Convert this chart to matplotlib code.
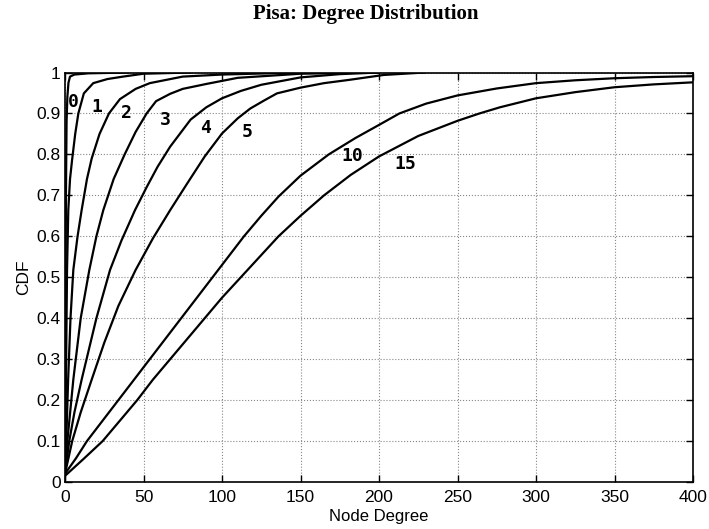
import numpy as np
import matplotlib
matplotlib.use('Agg')
import matplotlib.pyplot as plt

# degree / cdf points, one pair of lists per curve
deg_0 = [0, 0.3, 0.6, 1.0, 1.5, 2.2, 3.2, 6, 15, 40]
cdf_0 = [0.0, 0.35, 0.7, 0.88, 0.94, 0.975, 0.99, 0.995, 0.998, 1.0]

deg_1 = [0, 0.3, 0.6, 1.3, 2.1, 3.2, 4.5, 6.5, 8.5, 12, 18, 27, 37, 50, 80]
cdf_1 = [0.02, 0.12, 0.25, 0.518, 0.664, 0.74, 0.786, 0.85, 0.9, 0.949, 0.974, 0.984, 0.99, 0.997, 1.0]

deg_2 = [0, 0.8, 2.0, 3.5, 5.3, 8, 10.6, 14, 17, 22, 28, 35, 45, 54, 75, 100, 150]
cdf_2 = [0.02, 0.1, 0.25, 0.4, 0.518, 0.6, 0.664, 0.74, 0.79, 0.85, 0.9, 0.935, 0.96, 0.974, 0.99, 0.995, 1.0]

deg_3 = [0, 1.5, 5.3, 10, 15.5, 20, 24.4, 31, 38, 45, 52, 58, 67, 75, 90, 110, 150, 200]
cdf_3 = [0.02, 0.1, 0.25, 0.4, 0.518, 0.6, 0.664, 0.74, 0.8, 0.855, 0.9, 0.93, 0.948, 0.96, 0.972, 0.987, 0.997, 1.0]

deg_4 = [0, 2.7, 6, 10.6, 20, 28.7, 36, 44.6, 52, 59, 67, 80, 90, 100, 112, 125, 150, 175, 200]
cdf_4 = [0.02, 0.1, 0.17, 0.25, 0.4, 0.518, 0.59, 0.664, 0.72, 0.77, 0.819, 0.885, 0.915, 0.937, 0.955, 0.97, 0.988, 0.996, 1.0]

deg_5 = [0, 4.6, 10, 17, 25, 34, 45, 56, 67, 78, 89, 100, 110, 118, 127, 135, 150, 165, 181, 203, 229]
cdf_5 = [0.02, 0.1, 0.17, 0.25, 0.34, 0.43, 0.518, 0.595, 0.664, 0.73, 0.795, 0.851, 0.888, 0.912, 0.932, 0.949, 0.963, 0.974, 0.982, 0.994, 1.0]

deg_10 = [0, 7, 14, 24, 34, 44, 54, 64, 74, 84, 94, 104, 114, 125, 136, 150, 168, 185, 200,
          213, 230, 250, 275, 300, 325, 350, 375, 400]
cdf_10 = [0.02, 0.058, 0.1, 0.15, 0.2, 0.25, 0.3, 0.35, 0.4, 0.45, 0.5, 0.55, 0.6, 0.65, 0.697, 0.748,
          0.8, 0.84, 0.872, 0.9, 0.924, 0.944, 0.961, 0.974, 0.981, 0.986, 0.989, 0.991]

deg_15 = [0, 12, 24, 35, 46, 56, 67, 78, 89, 100, 112, 124, 136, 150, 165, 182, 200, 225, 250,
          264, 277, 300, 325, 350, 375, 400]
cdf_15 = [0.015, 0.057, 0.1, 0.15, 0.2, 0.25, 0.3, 0.35, 0.4, 0.45, 0.5, 0.55, 0.6, 0.65, 0.7,
          0.75, 0.795, 0.845, 0.882, 0.9, 0.915, 0.937, 0.952, 0.964, 0.971, 0.976]

curves = [(deg_0, cdf_0), (deg_1, cdf_1), (deg_2, cdf_2), (deg_3, cdf_3),
          (deg_4, cdf_4), (deg_5, cdf_5), (deg_10, cdf_10), (deg_15, cdf_15)]

# curve tags and where they sit (data coords)
tag_text = ['0', '1', '2', '3', '4', '5', '10', '15']
tag_x = [5.3, 20.2, 39.3, 63.7, 89.2, 115.7, 183.2, 216.6]
tag_y = [0.929, 0.916, 0.9, 0.884, 0.864, 0.855, 0.796, 0.776]

plt.rcParams['font.family'] = ['Liberation Sans', 'DejaVu Sans']

fig = plt.figure(figsize=(7.09, 5.29), dpi=100)
ax = fig.add_axes([65 / 709, 1 - 482 / 529, 628 / 709, 409.5 / 529])

for d, c in curves:
    ax.plot(d, c, color='black', linewidth=1.6)

for t, x, y in zip(tag_text, tag_x, tag_y):
    ax.text(x, y, t, ha='center', va='center', fontsize=13,
            family='DejaVu Sans Mono', fontweight='bold')

ax.set_xlim(0, 400)
ax.set_ylim(0, 1)
ax.set_xticks(np.arange(0, 401, 50))
ax.set_yticks(np.arange(0, 1.01, 0.1))
ax.set_yticklabels(['0', '0.1', '0.2', '0.3', '0.4', '0.5', '0.6', '0.7', '0.8', '0.9', '1'])
ax.grid(True, linestyle=':', color='#888888', linewidth=0.8)
ax.tick_params(direction='in', top=True, right=True, labelsize=12.5, length=5, width=1)
ax.tick_params(axis='x', pad=6)
ax.tick_params(axis='y', pad=3)
for s in ax.spines.values():
    s.set_linewidth(1.2)

ax.set_xlabel('Node Degree', fontsize=12, labelpad=3)
ax.set_ylabel('CDF', fontsize=12.5, labelpad=4)

fig.text(366 / 709, 1 - 14 / 529, 'Pisa: Degree Distribution', ha='center', va='center',
         fontsize=15, fontweight='bold', family='Liberation Serif')

plt.savefig('out.png', dpi=100)
plt.close()
